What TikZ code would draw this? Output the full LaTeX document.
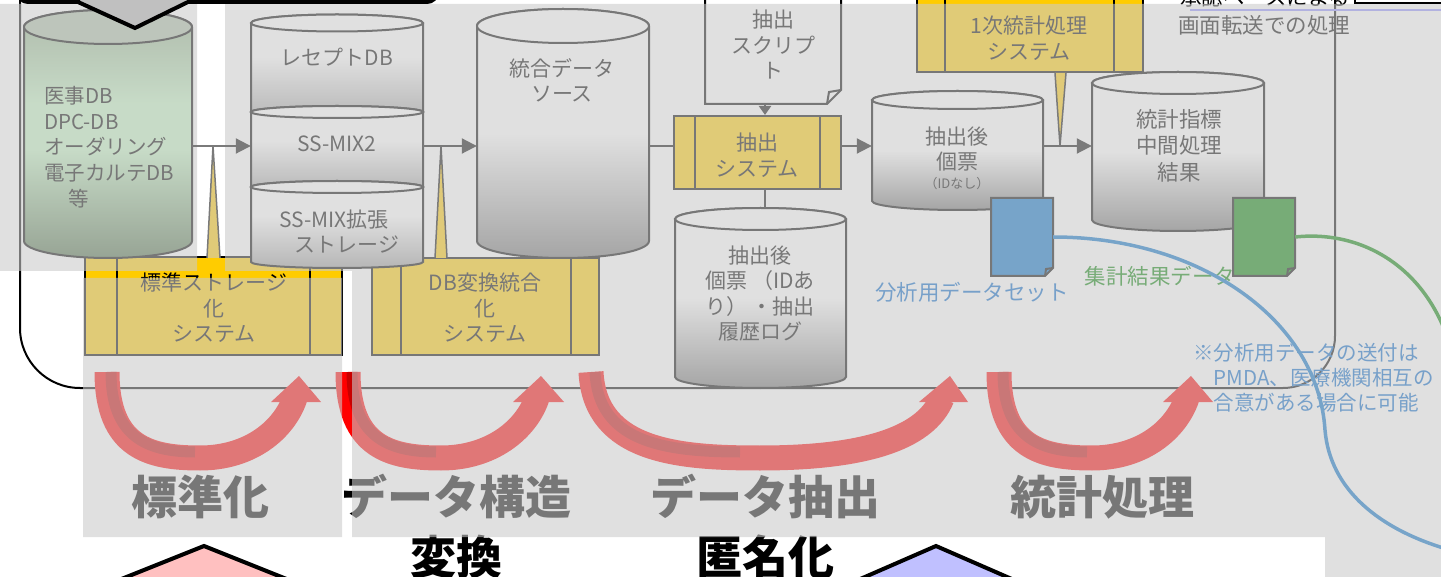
\documentclass[tikz,border=0pt]{standalone}
\usepackage{fontspec}
\setmainfont{Noto Sans CJK JP}
\usetikzlibrary{arrows.meta}
\definecolor{cgray}{HTML}{7A7A7A}
\definecolor{boxy}{HTML}{FFCC00}
\definecolor{boxmuted}{HTML}{E0CA78}
\definecolor{ovlgray}{HTML}{CBCBCB}
\definecolor{cgbot}{HTML}{707070}
\definecolor{csegbot}{HTML}{9A9A9A}
\definecolor{gtop}{HTML}{89A681}
\definecolor{gmid}{HTML}{C3F4C3}
\definecolor{gbot}{HTML}{4E6E48}
\definecolor{gell}{HTML}{ABBEA6}
\definecolor{bluex}{HTML}{006EC8}
\definecolor{bluet}{HTML}{0064C8}
\definecolor{greenx}{HTML}{008000}
\definecolor{lav}{HTML}{9090FF}
\definecolor{ribred}{HTML}{C80000}
\definecolor{callgray}{HTML}{C0C0C0}
\definecolor{pinkf}{HTML}{FFC0C0}
\definecolor{lavf}{HTML}{C0C0FF}
\pgfdeclareverticalshading{cylbig}{100bp}{color(0bp)=(cgbot); color(25bp)=(cgbot); color(50bp)=(white); color(100bp)=(white)}
\pgfdeclareverticalshading{cylseg}{100bp}{color(0bp)=(csegbot); color(25bp)=(csegbot); color(55bp)=(white); color(100bp)=(white)}
\pgfdeclareverticalshading{cylgreen}{100bp}{color(0bp)=(gbot); color(25bp)=(gbot); color(47bp)=(gmid); color(56bp)=(gmid); color(75bp)=(gtop); color(100bp)=(gtop)}
\newcommand\drawcyl[8]{%
  \pgfmathsetmacro\cylcx{(#2+#3)/2}%
  \pgfmathsetmacro\cylrx{(#3-#2)/2}%
  \pgfmathsetmacro\cylkx{0.5523*\cylrx}%
  \pgfmathsetmacro\cylky{0.5523*#6}%
  \pgfmathsetmacro\cylw{#3-#2}%
  \pgfmathsetmacro\cylh{#5-#4+2*#6}%
  \pgfmathsetmacro\cylcy{(#4+#5)/2}%
  \path[shade, shading=#7, draw=black, line width=2pt]
    (#2,#4) -- (#2,#5)
    .. controls (#2,#5+\cylky) and (\cylcx-\cylkx,#5+#6) .. (\cylcx,#5+#6)
    .. controls (\cylcx+\cylkx,#5+#6) and (#3,#5+\cylky) .. (#3,#5)
    -- (#3,#4)
    .. controls (#3,#4-\cylky) and (\cylcx+\cylkx,#4-#6) .. (\cylcx,#4-#6)
    .. controls (\cylcx-\cylkx,#4-#6) and (#2,#4-\cylky) .. cycle;
  \path[draw=black, line width=2pt, fill=#8] (\cylcx,#4) ellipse [x radius=\cylrx pt, y radius=#6pt];
  \node[inner sep=0pt, minimum width=\cylw pt, minimum height=\cylh pt] (#1) at (\cylcx,\cylcy) {};
}
\begin{document}
\begin{tikzpicture}[x=1pt,y=-1pt,
  ln/.style={draw=black, line width=2pt},
  txt/.style={text=black, font=\fontsize{21}{25.5}\selectfont, align=center, inner sep=0pt},
  conn/.style={draw=cgray, line width=2pt},
  arr/.style={conn, -{Triangle[length=15pt,width=15pt]}},
  proc/.style={draw=black, line width=2pt, fill=boxy, inner sep=0pt},
  ptr/.style={draw=cgray, line width=1.5pt, fill=boxmuted},
  bigshaft/.style={draw=red, line width=25pt},
  bighead/.style={fill=red},
  ribbon/.style={draw=ribred, line width=11pt},
  biglabel/.style={font=\fontsize{46}{60}\selectfont\bfseries, text=black, align=center, inner sep=0pt},
  ovl/.style={fill=ovlgray, fill opacity=0.59}]
\useasboundingbox (0,0) rectangle (1441,577);
\clip (0,0) rectangle (1441,577);
\fill[white] (0,0) rectangle (1441,577);

% big frame
\draw[ln, rounded corners=60pt] (20,-30) -- (20,388) -- (700,388);
\draw[ln, rounded corners=52pt] (700,388) -- (1335,388) -- (1335,-30);

% process boxes
\node[proc, minimum width=257pt, minimum height=98pt] (stdsys) at (213.5,306) {};
\draw[ln] (117,257) -- (117,355) (310,257) -- (310,355);
\node[proc, minimum width=227pt, minimum height=97pt] (dbsys) at (485.5,306.5) {};
\draw[ln] (401,258) -- (401,355) (571,258) -- (571,355);
\node[proc, minimum width=167pt, minimum height=73pt] (extsys) at (757.5,152.5) {};
\draw[ln] (695,116) -- (695,189) (820,116) -- (820,189);
\node[proc, minimum width=226pt, minimum height=92pt] (statsys) at (1030,26) {};
\draw[ln] (945,-20) -- (945,72) (1114,-20) -- (1114,72);

% script document
\node[inner sep=0pt, minimum width=136pt, minimum height=124pt] (script) at (773,42) {};
\draw[ln, fill=white] (705,-20) -- (705,104) -- (827,104) -- (841,90) -- (841,-20);
\draw[ln] (827,104) -- (829,92) -- (841,90);

% cylinders
\drawcyl{med}{24}{192}{27}{241}{17}{cylgreen}{gell}
\drawcyl{recept}{251}{423}{23}{112}{8.5}{cylseg}{white}
\drawcyl{ssmix}{251}{423}{112}{187}{6}{cylseg}{white}
\drawcyl{ssext}{251}{423}{187}{262}{6}{cylseg}{white}
\drawcyl{integ}{477}{649}{26}{241}{17}{cylbig}{white}
\drawcyl{extid}{675}{846}{219}{377}{11}{cylbig}{white}
\drawcyl{extnoid}{872}{1043}{100}{201}{9}{cylbig}{white}
\drawcyl{statres}{1092}{1264}{83}{220}{11}{cylbig}{white}

% data documents
\node[inner sep=0pt, minimum width=62pt, minimum height=78pt] (bdoc) at (1022,237) {};
\draw[ln, fill=bluex] (991,198) -- (1053,198) -- (1053,268) -- (1045,276) -- (991,276) -- cycle;
\draw[ln] (1045,276) -- (1046,269) -- (1053,268);
\node[inner sep=0pt, minimum width=62pt, minimum height=78pt] (gdoc) at (1264,237) {};
\draw[ln, fill=greenx] (1233,198) -- (1295,198) -- (1295,268) -- (1287,276) -- (1233,276) -- cycle;
\draw[ln] (1287,276) -- (1288,269) -- (1295,268);

% texts
\node[txt, anchor=west, align=left, font=\fontsize{20.5}{25.75}\selectfont] (tmed) at (44,147) {医事DB\\DPC-DB\\オーダリング\\電子カルテDB\\\hspace*{1.2em}等};
\node[txt] (trec) at (337,57) {レセプトDB};
\node[txt] (tss2) at (337,144) {SS-MIX2};
\node[txt, anchor=west, align=left] (tsse) at (279,231.5) {SS-MIX拡張\\\hspace*{0.75em}ストレージ};
\node[txt] (tint) at (562,80.5) {統合データ\\ソース};
\node[txt] (tscr) at (773,44.5) {抽出\\スクリプ\\ト};
\node[txt] (tes) at (757,155) {抽出\\システム};
\node[txt] (tid) at (760,293.5) {抽出後\\個票 （IDあ\\り） ・抽出\\履歴ログ};
\node[txt] (tnoid) at (957,149) {抽出後\\個票};
\node[txt, font=\fontsize{13}{15}\selectfont] (tnoid2) at (957,184) {（IDなし）};
\node[txt, font=\fontsize{21.5}{26.5}\selectfont] (tres) at (1179,145.5) {統計指標\\中間処理\\結果};
\node[txt] (tstat) at (1029,38) {1次統計処理\\システム};
\node[txt] (tstd) at (214,308) {標準ストレージ\\化\\システム};
\node[txt] (tdb) at (485,308) {DB変換統合\\化\\システム};
\node[txt, text=bluet, font=\fontsize{21.5}{25}\selectfont] (tana) at (972,292) {分析用データセット};
\node[txt, text=greenx, font=\fontsize{21.5}{25}\selectfont] (tagg) at (1160,276) {集計結果データ};
\node[txt, text=bluet, anchor=west, align=left, font=\fontsize{20.5}{25}\selectfont] (tnote) at (1193,378) {※分析用データの送付は\\\hspace*{1em}PMDA、医療機関相互の\\\hspace*{1em}合意がある場合に可能};
\node[txt, anchor=west, font=\fontsize{21.5}{25}\selectfont] (tappr) at (1180,-2) {承認ベースによる};
\node[txt, anchor=west, font=\fontsize{21.5}{25}\selectfont] (tscreen) at (1178,25) {画面転送での処理};
\draw[lav, line width=2.5pt] (1190,10) -- (1441,10);

% curves
\draw[bluex, line width=3.5pt] (bdoc.east) .. controls (1200,237) and (1318,320) .. (1325,430) .. controls (1330,490) and (1380,530) .. (1450,550);
\draw[greenx, line width=3.5pt] (gdoc.east) .. controls (1360,230) and (1425,265) .. (1450,345);

% red process arrows
\draw[bigshaft] (107,372) .. controls (107,448) and (150,458) .. (200,458) .. controls (250,458) and (284,430) .. (295,398);
\fill[bighead] (271,402) -- (299,376) -- (321,402) -- cycle;
\draw[ribbon] (111,372) .. controls (111,435) and (145,452) .. (195,452);
\draw[bigshaft] (348,372) .. controls (348,448) and (391,458) .. (441,458) .. controls (491,458) and (526,430) .. (537,398);
\fill[bighead] (513,402) -- (541,376) -- (564,402) -- cycle;
\draw[ribbon] (352,372) .. controls (352,435) and (386,452) .. (436,452);
\draw[bigshaft] (591,372) .. controls (595,452) and (680,458) .. (760,458) .. controls (860,458) and (925,440) .. (942,398);
\fill[bighead] (919,402) -- (950,376) -- (968,402) -- cycle;
\draw[ribbon] (595,372) .. controls (598,440) and (660,452) .. (740,452);
\draw[bigshaft] (999,372) .. controls (999,448) and (1042,458) .. (1092,458) .. controls (1142,458) and (1176,430) .. (1187,398);
\fill[bighead] (1163,402) -- (1191,376) -- (1213,402) -- cycle;
\draw[ribbon] (1003,372) .. controls (1003,435) and (1037,452) .. (1087,452);

% big labels
\node[biglabel] (lstd) at (200,497) {標準化};
\node[biglabel] (ldata) at (456,527) {データ構造\\変換};
\node[biglabel] (lext) at (765,527) {データ抽出\\匿名化};
\node[biglabel] (lstat) at (1102,497) {統計処理};

% translucent overlay
\path[ovl] (0,4) rectangle (197,271) (225,4) rectangle (1441,271) (83,278) rectangle (342,537) (352,271) rectangle (1441,537) (1325,537) rectangle (1441,577);

% connectors above overlay
\coordinate (row) at (0,146);
\coordinate (vcol) at (765,0);
\draw[arr] (med.east |- row) -- (recept.west |- row);
\draw[arr] (recept.east |- row) -- (integ.west |- row);
\draw[conn] (integ.east |- row) -- (extsys.west |- row);
\draw[arr] (extsys.east |- row) -- (extnoid.west |- row);
\draw[arr] (extnoid.east |- row) -- (statres.west |- row);
\draw[conn, -{Triangle[length=9pt,width=12pt]}] (vcol |- script.south) -- (vcol |- extsys.north);
\draw[conn] (vcol |- extsys.south) -- (vcol |- extid.north);

% callout pointers
\path[ptr] (207,258) -- (213,146) -- (220,258);
\path[ptr] (435,258) -- (441,146) -- (447,258);
\path[ptr] (1055,73) -- (1060,146) -- (1066,73);

% top callout, top-right box, bottom shapes
\draw[line width=4pt, fill=callgray] (18,-40) [rounded corners=10pt] -- (18,2) -- (70,2) [sharp corners] -- (78,2) -- (135,28) -- (188,2) [rounded corners=10pt] -- (437,2) -- (437,-40);
\draw[line width=1.5pt, fill=white] (1355,-10) rectangle (1450,3);
\draw[line width=4pt, fill=pinkf] (94,590) -- (204,546) -- (314,590);
\draw[line width=4pt, fill=lavf] (835,590) -- (936,546) -- (1037,590);
\end{tikzpicture}
\end{document}
